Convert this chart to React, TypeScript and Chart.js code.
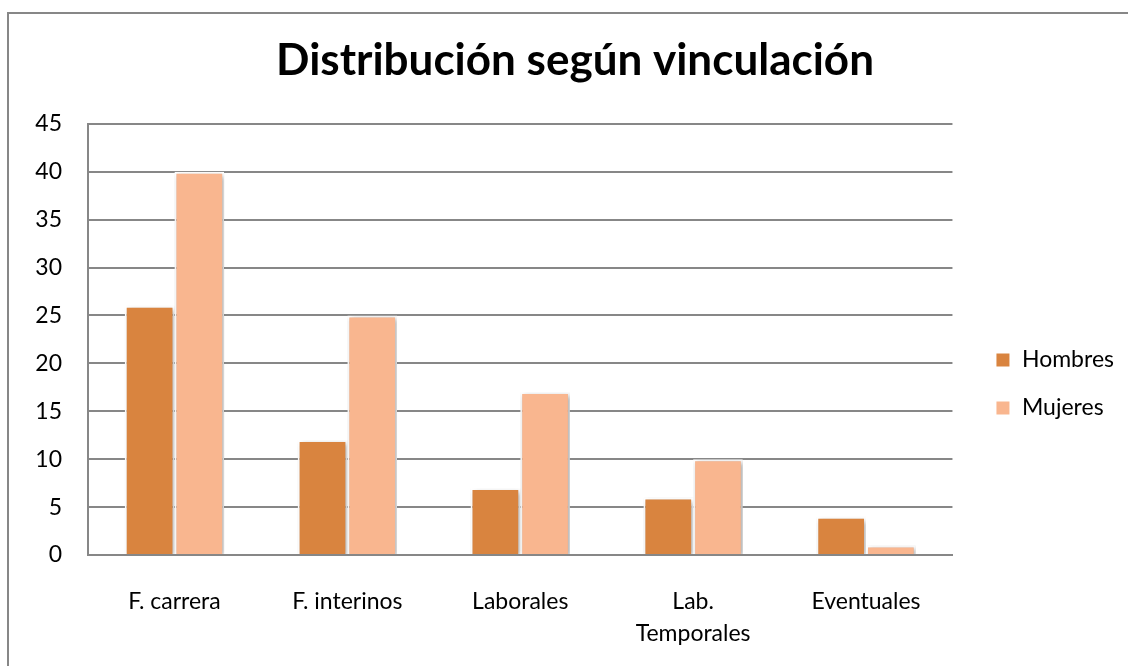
import React, { useEffect, useRef } from "react";
import { Chart, registerables } from "chart.js";

Chart.register(...registerables);

const categories: (string | string[])[] = ["F. carrera", "F. interinos", "Laborales", ["Lab.", "Temporales"], "Eventuales"];
const hombres = [26, 12, 7, 6, 4];
const mujeres = [40, 25, 17, 10, 1];
const seriesNames = ["Hombres", "Mujeres"];
const yMin = 0;
const yMax = 45;
const yStep = 5;
const titleText = "Distribución según vinculación";

const FONT = "Lato";
const GRID = "#878787";
const PAD_RIGHT = 35;

const shadowPlugin = {
  id: "barShadow",
  beforeDatasetsDraw(chart: any) {
    const c = chart.ctx;
    c.save();
    c.shadowColor = "rgba(0,0,0,0.35)";
    c.shadowBlur = 5;
    c.shadowOffsetX = 2;
    c.shadowOffsetY = 2;
  },
  afterDatasetsDraw(chart: any) {
    chart.ctx.restore();
  },
};

const layoutShift = {
  id: "layoutShift",
  afterLayout(chart: any) {
    const l = chart.legend;
    if (l) {
      const target = chart.chartArea.right + 43;
      const cur = l.left + l.options.labels.padding;
      const dx = target - cur;
      l.left += dx;
      l.right += dx;
    }
    const t = chart.titleBlock;
    if (t) {
      t.left = 0;
      t.right = chart.width;
      t.width = chart.width;
    }
  },
};

export default function App() {
  const ref = useRef<HTMLCanvasElement>(null);
  useEffect(() => {
    if (!ref.current) return;
    const chart = new Chart(ref.current, {
      type: "bar",
      data: {
        labels: categories,
        datasets: [
          {
            label: seriesNames[0],
            data: hombres,
            backgroundColor: "#D9843F",
            borderColor: "#ffffff",
            borderWidth: 2,
          },
          {
            label: seriesNames[1],
            data: mujeres,
            backgroundColor: "#F9B68F",
            borderColor: "#ffffff",
            borderWidth: 2,
          },
        ],
      },
      options: {
        responsive: false,
        animation: false,
        layout: { padding: { left: 0, right: PAD_RIGHT, top: 0, bottom: 0 } },
        datasets: {
          bar: { categoryPercentage: 0.575, barPercentage: 1 },
        },
        plugins: {
          title: {
            display: true,
            text: titleText,
            color: "#000",
            font: { family: FONT, size: 44, weight: "bold" },
            padding: { top: 20, bottom: 37 },
          },
          legend: {
            position: "right",
            labels: {
              color: "#000",
              font: { family: FONT, size: 23 },
              boxWidth: 15,
              boxHeight: 15,
              padding: 25,
            },
          },
          tooltip: { enabled: false },
        },
        scales: {
          x: {
            grid: { display: false },
            border: { display: true, color: GRID, width: 2 },
            ticks: {
              color: "#000",
              font: { family: FONT, size: 23, lineHeight: 1.4 },
              padding: 22,
              maxRotation: 0,
              autoSkip: false,
            },
            afterFit(scale: any) {
              scale.height = 199;
            },
          },
          y: {
            min: yMin,
            max: yMax,
            grid: { color: GRID, lineWidth: 2, drawTicks: false },
            border: { display: true, color: GRID, width: 2 },
            ticks: {
              stepSize: yStep,
              color: "#000",
              font: { family: FONT, size: 23 },
              padding: 26,
            },
            afterFit(scale: any) {
              scale.width = 79;
            },
          },
        },
      },
      plugins: [shadowPlugin, layoutShift],
    });
    return () => chart.destroy();
  }, []);

  return (
    <div style={{ position: "fixed", left: 0, top: 0, width: 1128, height: 666, overflow: "hidden", background: "#fff" }}>
      <div
        style={{
          position: "absolute",
          left: 7,
          top: 12,
          width: 1136,
          height: 744,
          border: "2px solid #878787",
          boxSizing: "border-box",
          background: "#fff",
        }}
      >
        <canvas ref={ref} width={1132} height={740} style={{ display: "block" }} />
      </div>
    </div>
  );
}
